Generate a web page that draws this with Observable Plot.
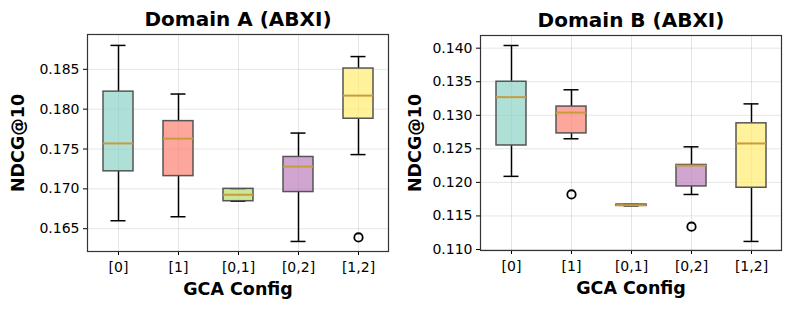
<!DOCTYPE html>
<html><head><meta charset="utf-8">
<script src="https://cdn.jsdelivr.net/npm/d3@7"></script>
<script src="https://cdn.jsdelivr.net/npm/@observablehq/plot@0.6"></script>
<style>
body{margin:0;background:#fff;font-family:"DejaVu Sans",sans-serif}
#wrap{position:relative;width:792px;height:310px;overflow:hidden}
#wrap > div{position:absolute;top:0}
</style></head><body>
<div id="wrap"><div id="pa" style="left:0"></div><div id="pb" style="left:396px"></div></div>
<script>
const configs = ["[0]", "[1]", "[0,1]", "[0,2]", "[1,2]"];
const boxColors = ["#8dd3c7", "#fb8072", "#b3de69", "#bc80bd", "#ffed6f"];

// Domain A (ABXI) — box statistics per config
const aLow  = [0.1660, 0.1665, 0.16845, 0.1634, 0.1743];
const aQ1   = [0.1722, 0.1716, 0.16845, 0.1696, 0.1788];
const aMed  = [0.1757, 0.1763, 0.16926, 0.1728, 0.1817];
const aQ3   = [0.1822, 0.1785, 0.1700, 0.1740, 0.1851];
const aHigh = [0.1880, 0.1819, 0.1700, 0.1770, 0.1866];
const aOutConfig = ["[1,2]"];
const aOutValue  = [0.1639];
const aTicks = [0.165, 0.170, 0.175, 0.180, 0.185];

// Domain B (ABXI)
const bLow  = [0.1209, 0.1265, 0.1165, 0.1182, 0.1112];
const bQ1   = [0.1255, 0.1273, 0.1165, 0.1194, 0.1192];
const bMed  = [0.1327, 0.1304, 0.1166, 0.1225, 0.1258];
const bQ3   = [0.1350, 0.1313, 0.1167, 0.1226, 0.1288];
const bHigh = [0.1404, 0.1338, 0.1167, 0.1253, 0.1317];
const bOutConfig = ["[1]", "[0,2]"];
const bOutValue  = [0.1182, 0.1134];
const bTicks = [0.110, 0.115, 0.120, 0.125, 0.130, 0.135, 0.140];

function rowsOf(low, q1, med, q3, high) {
  return configs.map((c, i) => ({config: c, color: boxColors[i], low: low[i], q1: q1[i], med: med[i], q3: q3[i], high: high[i]}));
}
function outsOf(cs, vs) { return cs.map((c, i) => ({config: c, value: vs[i]})); }

function panel({title, rows, outs, domain, ticks, marginLeft, marginRight, marginTop, marginBottom, ylabelDx}) {
  return Plot.plot({
    width: 396, height: 310,
    marginLeft, marginRight, marginTop, marginBottom,
    style: {fontFamily: "DejaVu Sans, sans-serif", fontSize: "14px", color: "black", background: "white"},
    x: {domain: configs, padding: 0, grid: true, tickSize: 4, tickPadding: 7, label: null},
    y: {domain, ticks, grid: true, tickSize: 4, tickPadding: 4, tickFormat: d3.format(".3f"), label: null},
    color: {type: "identity"},
    marks: [
      Plot.ruleX(rows, {x: "config", y1: "q3", y2: "high", stroke: "black", strokeWidth: 1.5}),
      Plot.ruleX(rows, {x: "config", y1: "low", y2: "q1", stroke: "black", strokeWidth: 1.5}),
      Plot.tickY(rows, {x: "config", y: "high", stroke: "black", strokeWidth: 1.5, insetLeft: 22.5, insetRight: 22.5}),
      Plot.tickY(rows, {x: "config", y: "low", stroke: "black", strokeWidth: 1.5, insetLeft: 22.5, insetRight: 22.5}),
      Plot.barY(rows, {x: "config", y1: "q1", y2: "q3", fill: "color", fillOpacity: 0.7, stroke: "#555", strokeWidth: 1.5, insetLeft: 15, insetRight: 15}),
      Plot.tickY(rows, {x: "config", y: "med", stroke: "#c89b3c", strokeWidth: 2, insetLeft: 15, insetRight: 15}),
      Plot.dot(outs, {x: "config", y: "value", r: 4.2, stroke: "black", strokeWidth: 1.8, fill: "none"}),
      Plot.frame({stroke: "#333", strokeWidth: 1.2}),
      Plot.text([title], {frameAnchor: "top", lineAnchor: "middle", textAnchor: "middle", dy: -15, fontSize: 20, fontWeight: "bold", fill: "black"}),
      Plot.text(["NDCG@10"], {frameAnchor: "left", lineAnchor: "middle", textAnchor: "middle", dx: ylabelDx, rotate: -90, fontSize: 17.5, fontWeight: "bold", fill: "black"}),
      Plot.text(["GCA Config"], {frameAnchor: "bottom", lineAnchor: "middle", textAnchor: "middle", dy: 38, fontSize: 17.5, fontWeight: "bold", fill: "black"})
    ]
  });
}

document.getElementById("pa").append(panel({
  title: "Domain A (ABXI)",
  rows: rowsOf(aLow, aQ1, aMed, aQ3, aHigh), outs: outsOf(aOutConfig, aOutValue),
  domain: [0.16214, 0.18937], ticks: aTicks,
  marginLeft: 87, marginRight: 8, marginTop: 34, marginBottom: 59, ylabelDx: -69
}));
document.getElementById("pb").append(panel({
  title: "Domain B (ABXI)",
  rows: rowsOf(bLow, bQ1, bMed, bQ3, bHigh), outs: outsOf(bOutConfig, bOutValue),
  domain: [0.10985, 0.14189], ticks: bTicks,
  marginLeft: 84, marginRight: 11, marginTop: 35, marginBottom: 60, ylabelDx: -65
}));
</script>
</body></html>
